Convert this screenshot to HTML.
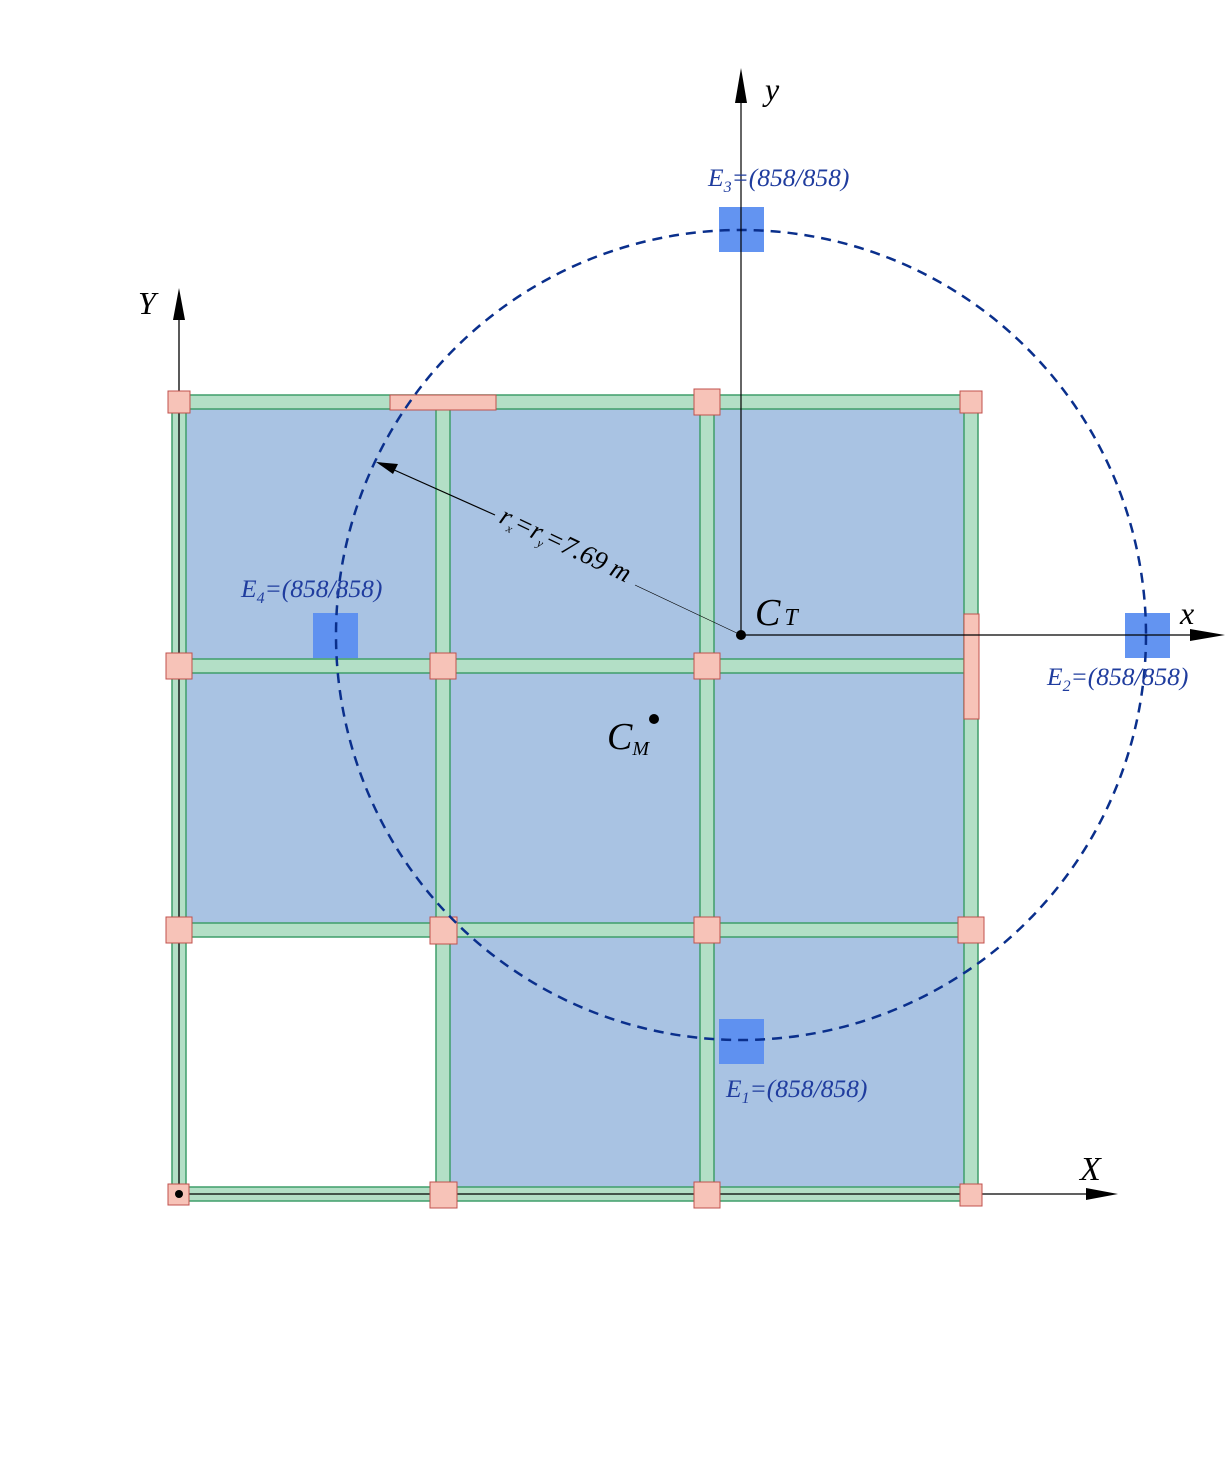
<!DOCTYPE html>
<html><head><meta charset="utf-8"><style>body{margin:0;background:#fff}svg{display:block}</style></head><body>
<svg width="1228" height="1464" viewBox="0 0 1228 1464" xmlns="http://www.w3.org/2000/svg" font-family="Liberation Serif, serif">
<rect width="1228" height="1464" fill="#fff"/>
<path d="M179 402H971V1194H443V930H179Z" fill="#a9c3e3"/>
<g fill="#b3dfc6" stroke="#3f9e6a" stroke-width="1.5">
<rect x="179" y="395" width="792" height="14"/>
<rect x="179" y="659" width="792" height="14"/>
<rect x="179" y="923" width="792" height="14"/>
<rect x="179" y="1187" width="792" height="14"/>
<rect x="172" y="402" width="14" height="792"/>
<rect x="436" y="402" width="14" height="792"/>
<rect x="700" y="402" width="14" height="792"/>
<rect x="964" y="402" width="14" height="792"/>
</g>
<line x1="179" y1="1194" x2="1100" y2="1194" stroke="#000" stroke-width="1.3"/>
<line x1="179" y1="1194" x2="179" y2="310" stroke="#000" stroke-width="1.3"/>
<g fill="#f7c3b8" stroke="#c0504d" stroke-width="1">
<rect x="168" y="391" width="22" height="22"/>
<rect x="694" y="389" width="26" height="26"/>
<rect x="960" y="391" width="22" height="22"/>
<rect x="166" y="653" width="26" height="26"/>
<rect x="430" y="653" width="26" height="26"/>
<rect x="694" y="653" width="26" height="26"/>
<rect x="166" y="917" width="26" height="26"/>
<rect x="430" y="917" width="27" height="27"/>
<rect x="694" y="917" width="26" height="26"/>
<rect x="958" y="917" width="26" height="26"/>
<rect x="168" y="1184" width="21" height="21"/>
<rect x="430" y="1182" width="27" height="26"/>
<rect x="694" y="1182" width="26" height="26"/>
<rect x="960" y="1184" width="22" height="22"/>
<rect x="390" y="395" width="106" height="15"/>
<rect x="964" y="614" width="15" height="105"/>
</g>
<circle cx="179" cy="1194" r="4" fill="#000"/>
<g fill="#5b8ef0" opacity="0.95">
<rect x="719" y="207" width="45" height="45"/>
<rect x="1125" y="613" width="45" height="45"/>
<rect x="313" y="613" width="45" height="45"/>
<rect x="719" y="1019" width="45" height="45"/>
</g>
<circle cx="741" cy="635" r="405" fill="none" stroke="#0a2f8c" stroke-width="2.5" stroke-dasharray="10 7"/>
<g stroke="#000" stroke-width="1.2">
<line x1="741" y1="635" x2="741" y2="95"/>
<line x1="741" y1="635" x2="1195" y2="635"/>
<line x1="741" y1="635" x2="635" y2="585" stroke-width="0.6"/>
<line x1="495" y1="515" x2="392" y2="469"/>
</g>
<g fill="#000">
<polygon points="741,68 735,103 747,103"/>
<polygon points="1225,635 1190,629 1190,641"/>
<polygon points="179,288 173,320 185,320"/>
<polygon points="1118,1194 1086,1188 1086,1200"/>
<polygon points="376,462 398,464 393,474"/>
<circle cx="741" cy="635" r="5"/>
<circle cx="654" cy="719" r="5"/>
</g>
<g font-style="italic" fill="#000">
<text x="765" y="100" font-size="32">y</text>
<text x="1180" y="624" font-size="32">x</text>
<text x="138" y="314" font-size="32">Y</text>
<text x="1080" y="1180" font-size="34">X</text>
<text x="755" y="625" font-size="38">C<tspan font-size="24" dx="4">T</tspan></text>
<text x="607" y="749" font-size="38">C<tspan font-size="20" dy="6">M</tspan></text>
<text transform="translate(498,522) rotate(25.4)" font-size="27">r<tspan font-size="12" dy="5">x</tspan><tspan dy="-5">=r</tspan><tspan font-size="12" dy="5">y</tspan><tspan dy="-5">=7.69 m</tspan></text>
</g>
<g font-style="italic" fill="#1f3c9e" font-size="25.5">
<text x="708" y="186">E<tspan font-size="16" dy="6">3</tspan><tspan dy="-6">=(858/858)</tspan></text>
<text x="1047" y="685">E<tspan font-size="16" dy="6">2</tspan><tspan dy="-6">=(858/858)</tspan></text>
<text x="241" y="597">E<tspan font-size="16" dy="6">4</tspan><tspan dy="-6">=(858/858)</tspan></text>
<text x="726" y="1097">E<tspan font-size="16" dy="6">1</tspan><tspan dy="-6">=(858/858)</tspan></text>
</g>
</svg>
</body></html>
